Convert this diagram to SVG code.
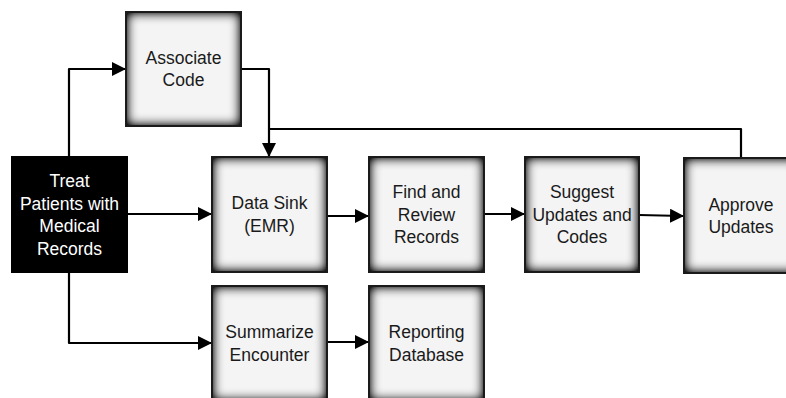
<svg xmlns="http://www.w3.org/2000/svg" width="786" height="398" viewBox="0 0 786 398">
<style>
.box{fill:#f4f4f4;stroke:none}
.edge{fill:none;stroke:#1a1a1a;stroke-width:2}
.dark{fill:#000;stroke:#000;stroke-width:2}
.t{font-family:"Liberation Sans",Arial,sans-serif;font-size:17.5px;fill:#1a1a1a;text-anchor:middle}
.tw{fill:#fff}
.c{fill:none;stroke:#000;stroke-width:2.2;stroke-linejoin:round}
</style>
<defs>
<filter id="inner" x="-20%" y="-20%" width="140%" height="140%" color-interpolation-filters="sRGB">
<feFlood flood-color="#000" flood-opacity="1" result="f"/>
<feComposite in="f" in2="SourceAlpha" operator="out" result="o"/>
<feGaussianBlur in="o" stdDeviation="6" result="b"/>
<feComposite in="b" in2="SourceAlpha" operator="in" result="s"/>
<feComponentTransfer in="s" result="s2"><feFuncA type="linear" slope="1.4"/></feComponentTransfer>
<feMerge><feMergeNode in="SourceGraphic"/><feMergeNode in="s2"/></feMerge>
</filter>
<marker id="ah" markerWidth="14" markerHeight="14" refX="13" refY="7" orient="auto" markerUnits="userSpaceOnUse">
<path d="M0,0 L14,7 L0,14 Z" fill="#000"/>
</marker>
</defs>
<rect width="786" height="398" fill="#fff"/>
<g id="connectors">
<path class="c" d="M69,157 L69,69 L125,69" marker-end="url(#ah)"/>
<path class="c" d="M241,69 L269,69 L269,156" marker-end="url(#ah)"/>
<path class="c" d="M741,158 L741,129 L269,129"/>
<path class="c" d="M127,214 L211,214" marker-end="url(#ah)"/>
<path class="c" d="M327,216 L368,216" marker-end="url(#ah)"/>
<path class="c" d="M484,214 L524,214" marker-end="url(#ah)"/>
<path class="c" d="M639,215 L683,216" marker-end="url(#ah)"/>
<path class="c" d="M69,272 L69,343 L211,343" marker-end="url(#ah)"/>
<path class="c" d="M327,342 L368,342" marker-end="url(#ah)"/>
</g>
<g id="associate">
<rect class="box" x="126" y="12" width="115" height="114" filter="url(#inner)"/>
<rect class="edge" x="126" y="12" width="115" height="114"/>
<text class="t" x="183.5" y="64">Associate</text>
<text class="t" x="183.5" y="86">Code</text>
</g>
<g id="treat">
<rect class="dark" x="12" y="157" width="115" height="115"/>
<text class="t tw" x="69.5" y="187">Treat</text>
<text class="t tw" x="69.5" y="209.5">Patients with</text>
<text class="t tw" x="69.5" y="232">Medical</text>
<text class="t tw" x="69.5" y="254.5">Records</text>
</g>
<g id="datasink">
<rect class="box" x="212" y="157" width="115" height="115" filter="url(#inner)"/>
<rect class="edge" x="212" y="157" width="115" height="115"/>
<text class="t" x="269.5" y="209">Data Sink</text>
<text class="t" x="269.5" y="231.5">(EMR)</text>
</g>
<g id="find">
<rect class="box" x="369" y="157" width="115" height="115" filter="url(#inner)"/>
<rect class="edge" x="369" y="157" width="115" height="115"/>
<text class="t" x="426.5" y="198">Find and</text>
<text class="t" x="426.5" y="220.5">Review</text>
<text class="t" x="426.5" y="243">Records</text>
</g>
<g id="suggest">
<rect class="box" x="525" y="157" width="114" height="115" filter="url(#inner)"/>
<rect class="edge" x="525" y="157" width="114" height="115"/>
<text class="t" x="582" y="198">Suggest</text>
<text class="t" x="582" y="220.5">Updates and</text>
<text class="t" x="582" y="243">Codes</text>
</g>
<g id="approve">
<rect class="box" x="684" y="158" width="115" height="115" filter="url(#inner)"/>
<rect class="edge" x="684" y="158" width="115" height="115"/>
<text class="t" x="741" y="210.5">Approve</text>
<text class="t" x="741" y="233">Updates</text>
</g>
<g id="summarize">
<rect class="box" x="212" y="286" width="115" height="115" filter="url(#inner)"/>
<rect class="edge" x="212" y="286" width="115" height="115"/>
<text class="t" x="269.5" y="338">Summarize</text>
<text class="t" x="269.5" y="360.5">Encounter</text>
</g>
<g id="reporting">
<rect class="box" x="369" y="286" width="115" height="115" filter="url(#inner)"/>
<rect class="edge" x="369" y="286" width="115" height="115"/>
<text class="t" x="426.5" y="338">Reporting</text>
<text class="t" x="426.5" y="360.5">Database</text>
</g>
</svg>
